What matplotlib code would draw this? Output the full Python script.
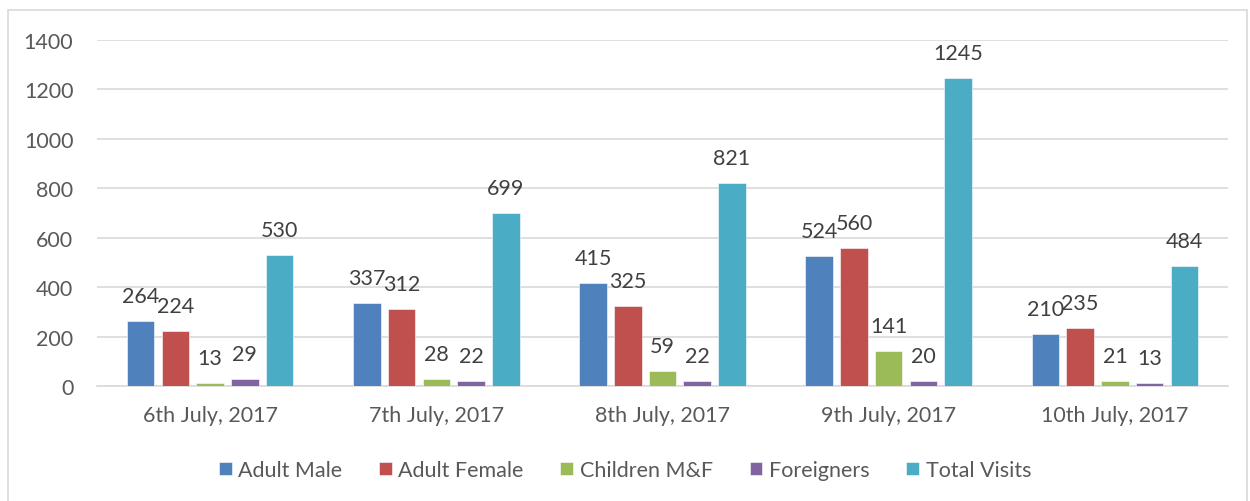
import matplotlib
matplotlib.use("Agg")
import matplotlib.pyplot as plt
from matplotlib.patches import Rectangle
import numpy as np

categories = ["6th July, 2017", "7th July, 2017", "8th July, 2017", "9th July, 2017", "10th July, 2017"]
series_names = ["Adult Male", "Adult Female", "Children M&F", "Foreigners", "Total Visits"]
adult_male = [264, 337, 415, 524, 210]
adult_female = [224, 312, 325, 560, 235]
children = [13, 28, 59, 141, 21]
foreigners = [29, 22, 22, 20, 13]
total_visits = [530, 699, 821, 1245, 484]
series_values = [adult_male, adult_female, children, foreigners, total_visits]
colors = ["#4F81BD", "#C0504D", "#9BBB59", "#8064A2", "#4BACC6"]

plt.rcParams['font.family'] = ['Lato', 'DejaVu Sans']
text_color = "#595959"
fs = 15.5

fig = plt.figure(figsize=(12.5, 5.02), dpi=100)
W, H = 1250, 502
ax = fig.add_axes([97 / W, 1 - 387 / H, (1228 - 97) / W, (387 - 41) / H])

x = np.arange(len(categories))
step = 0.1535
width = 0.122
for i, (name, vals, c) in enumerate(zip(series_names, series_values, colors)):
    pos = x + (i - 2) * step
    ax.bar(pos, vals, width=width, color=c, label=name, zorder=3,
           edgecolor="white", linewidth=0.4)
    for p, v in zip(pos, vals):
        ax.annotate(str(v), (p, v), xytext=(0, 25), textcoords="offset pixels",
                    ha="center", va="center", fontsize=fs, color="#404040")

ax.set_xlim(-0.5, len(categories) - 0.5)
ax.set_ylim(0, 1400)
ax.set_yticks(range(0, 1401, 200))
ax.yaxis.grid(True, color="#d9d9d9", linewidth=1.2, zorder=0)
ax.set_axisbelow(True)
for s in ["top", "right", "left"]:
    ax.spines[s].set_visible(False)
ax.spines["bottom"].set_color("#d9d9d9")
ax.spines["bottom"].set_linewidth(1.2)
ax.tick_params(axis="y", length=0, pad=17, labelsize=fs, labelcolor=text_color)
ax.tick_params(axis="x", length=0, pad=14, labelsize=fs, labelcolor=text_color)
ax.set_xticks(x)
ax.set_xticklabels(categories)

leg = fig.legend(loc="center", bbox_to_anchor=(0.5, 1 - 471 / H), ncol=5, frameon=False,
                 fontsize=fs, handlelength=0.6, handleheight=0.6, handletextpad=0.3,
                 columnspacing=1.7)
for t in leg.get_texts():
    t.set_color(text_color)

fig.patches.append(Rectangle((8 / W, -0.01), (1247 - 8) / W, 1 - 11 / H + 0.01,
                             transform=fig.transFigure, fill=False,
                             edgecolor="#d9d9d9", linewidth=1.2))

fig.savefig("out.png", dpi=100)
